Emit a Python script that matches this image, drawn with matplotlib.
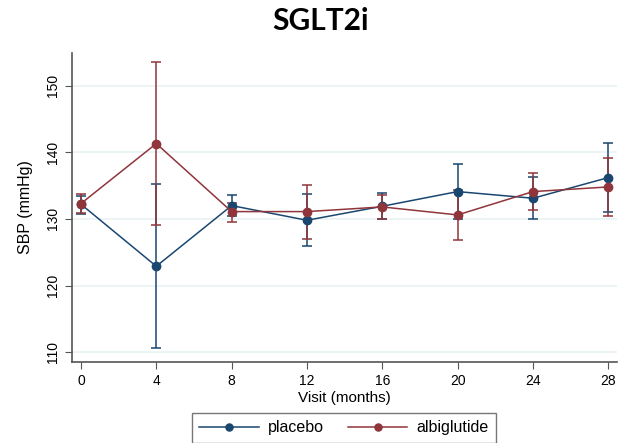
"""SGLT2i subgroup: SBP by visit, placebo vs albiglutide (Stata-style)."""
import matplotlib
matplotlib.use("Agg")
import matplotlib.pyplot as plt  # noqa: E402

plt.rcParams["font.family"] = ["Liberation Sans", "DejaVu Sans"]

# ---- data ----------------------------------------------------------------
visits = [0, 4, 8, 12, 16, 20, 24, 28]

placebo_mean = [132.2, 122.9, 132.0, 129.8, 131.9, 134.1, 133.1, 136.2]
placebo_lo   = [130.8, 110.6, 130.4, 125.9, 130.0, 130.0, 130.0, 131.0]
placebo_hi   = [133.4, 135.2, 133.6, 133.7, 133.9, 138.2, 136.3, 141.4]

albi_mean = [132.3, 141.3, 131.1, 131.1, 131.8, 130.6, 134.1, 134.8]
albi_lo   = [130.9, 129.1, 129.6, 127.0, 130.0, 126.9, 131.3, 130.4]
albi_hi   = [133.7, 153.6, 132.4, 135.1, 133.6, 134.3, 136.9, 139.2]

y_ticks = [110, 120, 130, 140, 150]

NAVY = "#1a476f"
MAROON = "#90353b"
AXIS = "#555555"


def _err(mean, lo, hi):
    return [[m - l for m, l in zip(mean, lo)], [h - m for m, h in zip(mean, hi)]]


fig = plt.figure(figsize=(6.27, 4.43), dpi=100)
ax = fig.add_axes([0.1144, 0.183, 0.8696, 0.698])

series = [
    ("placebo", placebo_mean, placebo_lo, placebo_hi, NAVY),
    ("albiglutide", albi_mean, albi_lo, albi_hi, MAROON),
]
handles = []
for label, mean, lo, hi, col in series:
    ax.errorbar(visits, mean, yerr=_err(mean, lo, hi), fmt="none",
                ecolor=col, elinewidth=1.1, capsize=3.5, capthick=1.1, zorder=3)
    h, = ax.plot(visits, mean, color=col, linewidth=1.1, marker="o",
                 markersize=6, label=label, zorder=4)
    handles.append(h)

ax.set_xlim(-0.49, 28.46)
ax.set_ylim(108.55, 154.93)
ax.set_xticks(visits)
ax.set_yticks(y_ticks)
ax.set_yticklabels([str(t) for t in y_ticks], rotation=90, va="center")
ax.tick_params(axis="both", labelsize=10, color=AXIS, direction="out", length=5)
ax.grid(True, axis="y", color="#eaf2f3", linewidth=1.2, zorder=0)
ax.set_axisbelow(True)
for spine in ("top", "right"):
    ax.spines[spine].set_visible(False)
for spine in ("left", "bottom"):
    ax.spines[spine].set_color(AXIS)
    ax.spines[spine].set_linewidth(1.2)

ax.set_xlabel("Visit (months)", fontsize=11, labelpad=2)
ax.set_ylabel("SBP (mmHg)", fontsize=11.5, labelpad=9)

fig.suptitle("SGLT2i", fontsize=21.5, fontweight="bold", x=0.511, y=0.985,
             family=["Lato", "DejaVu Sans"])

fig.legend(handles=handles, loc="center", bbox_to_anchor=(0.549, 0.034),
           ncol=2, fontsize=11.5, frameon=True, fancybox=False, edgecolor="#555555",
           handlelength=3.7, handletextpad=0.6, columnspacing=1.5,
           borderpad=0.45, markerscale=0.85)

fig.savefig("out.png", dpi=100)
plt.close(fig)
